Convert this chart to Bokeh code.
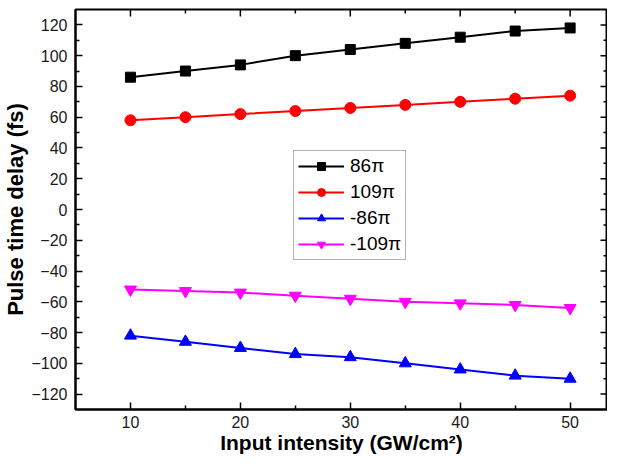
import math
from bokeh.plotting import figure
from bokeh.models import FixedTicker, Range1d
from bokeh.embed import file_html
from bokeh.resources import INLINE

# ---- data ----
intensity = [10, 15, 20, 25, 30, 35, 40, 45, 50]
delay_86pi = [86, 90, 94, 100, 104, 108, 112, 116, 118]
delay_109pi = [58, 60, 62, 64, 66, 68, 70, 72, 74]
delay_m86pi = [-82, -86, -90, -94, -96, -100, -104, -108, -110]
delay_m109pi = [-52, -53, -54, -56, -58, -60, -61, -62, -64]

series_labels = ["86\u03c0", "109\u03c0", "-86\u03c0", "-109\u03c0"]
x_ticks = [10, 20, 30, 40, 50]
x_minor = [15, 25, 35, 45]
y_ticks = list(range(-120, 121, 20))
y_minor = list(range(-110, 111, 20))

FONT = "Liberation Sans"

xr = Range1d(5, 53.4)
yr = Range1d(-130, 130)

p = figure(width=607, height=457, x_range=xr, y_range=yr,
           output_backend="svg", toolbar_location=None,
           min_border_left=75, min_border_right=0, min_border_top=9, min_border_bottom=48)
p.grid.visible = False
p.outline_line_color = "black"
p.outline_line_width = 2
p.background_fill_color = "white"
p.border_fill_color = "white"


def style_axis(ax, ticks, minor):
    ax.ticker = FixedTicker(ticks=ticks, minor_ticks=minor)
    ax.major_tick_in = 7
    ax.major_tick_out = 0
    ax.minor_tick_in = 4
    ax.minor_tick_out = 0
    ax.major_tick_line_width = 1.5
    ax.minor_tick_line_width = 1.5
    ax.major_tick_line_color = "black"
    ax.minor_tick_line_color = "black"
    ax.axis_line_width = 2
    ax.axis_line_color = "black"
    ax.major_label_text_font = FONT
    ax.major_label_text_font_size = "16px"
    ax.major_label_text_color = "#1a1a1a"


style_axis(p.xaxis[0], x_ticks, x_minor)
style_axis(p.yaxis[0], y_ticks, y_minor)
p.xaxis.major_label_standoff = 6
p.yaxis.major_label_standoff = 8

p.yaxis.axis_label = "Pulse time delay (fs)"
p.yaxis.axis_label_text_font = FONT
p.yaxis.axis_label_text_font_size = "22px"
p.yaxis.axis_label_text_font_style = "bold"
p.yaxis.axis_label_text_color = "black"
p.yaxis.axis_label_standoff = 0

p.xaxis.axis_label = "Input intensity (GW/cm\u00b2)"
p.xaxis.axis_label_text_font = FONT
p.xaxis.axis_label_text_font_size = "21px"
p.xaxis.axis_label_text_font_style = "bold"
p.xaxis.axis_label_text_color = "black"
p.xaxis.axis_label_standoff = 0

# inward ticks on the top and right frame edges (half of each dash is clipped by the frame)
p.scatter(x_ticks, [yr.end] * len(x_ticks), marker="dash", size=14, angle=math.pi / 2,
          line_color="black", line_width=1.5)
p.scatter(x_minor, [yr.end] * len(x_minor), marker="dash", size=8, angle=math.pi / 2,
          line_color="black", line_width=1.5)
p.scatter([xr.end] * len(y_ticks), y_ticks, marker="dash", size=14,
          line_color="black", line_width=1.5)
p.scatter([xr.end] * len(y_minor), y_minor, marker="dash", size=8,
          line_color="black", line_width=1.5)

colors = ["black", "#ff0000", "#0000ff", "#ff00ff"]
markers = ["square", "circle", "triangle", "inverted_triangle"]
sizes = [10, 11, 12, 12]
ys = [delay_86pi, delay_109pi, delay_m86pi, delay_m109pi]

for yv, c, m, s, lab in zip(ys, colors, markers, sizes, series_labels):
    p.line(intensity, yv, line_color=c, line_width=2, legend_label=lab)
    p.scatter(intensity, yv, marker=m, size=s, fill_color=c, line_color=c, legend_label=lab)

leg = p.legend[0]
leg.location = (218, 149)
leg.label_text_font = FONT
leg.label_text_font_size = "19px"
leg.label_text_color = "black"
leg.glyph_width = 46
leg.glyph_height = 20
leg.label_height = 20
leg.spacing = 4
leg.padding = 4
leg.margin = 0
leg.label_standoff = 6
leg.border_line_color = "#666666"
leg.border_line_width = 1
leg.background_fill_alpha = 1

open("out.html", "w").write(file_html(p, INLINE))
